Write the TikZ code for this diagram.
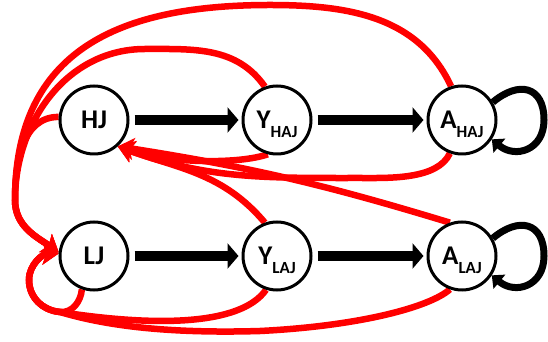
\documentclass[tikz,border=0pt]{standalone}
\usepackage{fontspec}
\setmainfont{Carlito}
\usetikzlibrary{arrows.meta}
\pgfdeclarelayer{bg}
\pgfsetlayers{bg,main}
\newcommand{\mysub}[1]{\raisebox{-9pt}[0pt][0pt]{\fontsize{17}{17}\selectfont\bfseries #1}}
\begin{document}
\begin{tikzpicture}[x=1pt,y=1pt,
  st/.style={circle,draw=black,fill=white,line width=3pt,minimum size=68pt,inner sep=0pt,
    font=\fontsize{27}{27}\selectfont\bfseries},
  blk/.style={draw=black,line width=10.5pt,-{Triangle[length=11pt,width=25pt]},shorten <=5pt,shorten >=3pt},
  bloop/.style={draw=black,line width=7pt,-{Triangle[length=10pt,width=18pt]}},
  redarr/.style={draw=red,line width=6.5pt,-{Stealth[length=16pt,width=22pt,inset=4pt]}}
]
\useasboundingbox (0,0) rectangle (548,342);
\node[st] (HJ) at (94,222) {HJ};
\node[st] (YH) at (277,222) {Y\mysub{HAJ}};
\node[st] (AH) at (462,222) {A\mysub{HAJ}};
\node[st] (LJ) at (94,86) {LJ};
\node[st] (YL) at (277,86) {Y\mysub{LAJ}};
\node[st] (AL) at (462,86) {A\mysub{LAJ}};
\coordinate (K) at (15,142);
\coordinate (M) at (60,30);
\coordinate (Q) at (29,62);
\begin{pgfonlayer}{bg}
% black arrows
\draw[blk] (HJ) -- (YH);
\draw[blk] (YH) -- (AH);
\draw[blk] (LJ) -- (YL);
\draw[blk] (YL) -- (AL);
\draw[bloop] (AH.30) to[out=40,in=90,looseness=1.6] (544,222) to[out=-90,in=-40,looseness=1.4] (AH.-33);
\draw[bloop] (AL.30) to[out=40,in=90,looseness=1.6] (544,86) to[out=-90,in=-40,looseness=1.4] (AL.-33);
% red arrows into LJ from above
\draw[redarr] (AH.108) to[out=115,in=0] (270,337) to[out=180,in=90,looseness=1.2] (K) to[out=-90,in=145] (LJ.174);
\draw[redarr] (YH.110) to[out=125,in=0] (145,293) to[out=180,in=90] (K) to[out=-90,in=145] (LJ.174);
\draw[redarr] (HJ.175) to[out=180,in=90] (K) to[out=-90,in=145] (LJ.174);
% red arrows into LJ from below
\draw[redarr] (LJ.-110) to[out=-95,in=-5] (M) to[out=175,in=-90] (Q) to[out=90,in=180] (LJ.176);
\draw[redarr] (YL.-108) .. controls (240,15) and (150,16) .. (M) to[out=175,in=-90] (Q) to[out=90,in=180] (LJ.176);
\draw[redarr] (AL.-110) .. controls (430,35) and (360,16) .. (260,11) .. controls (160,8) and (100,18) .. (M) to[out=175,in=-90] (Q) to[out=90,in=180] (LJ.176);
% red arrows into HJ
\draw[redarr] (YH.-105) .. controls (240,178) and (170,178) .. (HJ.-48);
\draw[redarr] (AH.-110) to[out=-115,in=0,looseness=0.8] (360,164) to[out=180,in=-20] (HJ.-48);
\draw[redarr] (AL.110) to[bend right=4] (HJ.-48);
\draw[redarr] (YL.110) to[out=130,in=-20] (HJ.-48);
\end{pgfonlayer}
\end{tikzpicture}
\end{document}
